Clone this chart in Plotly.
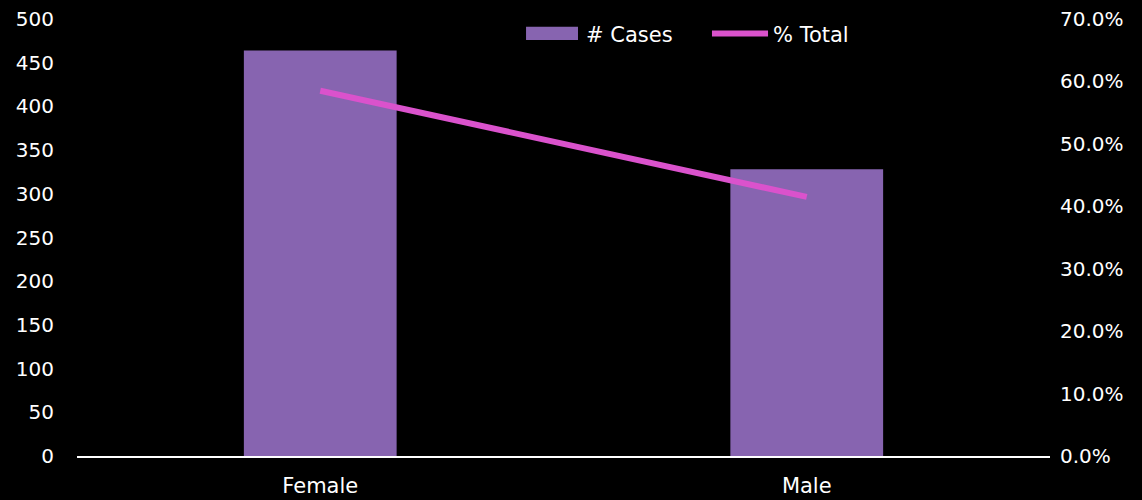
import plotly.graph_objects as go

# Case counts by gender and share of total
categories = ["Female", "Male"]
cases = [464, 328]
pct_total = [0.585, 0.415]

left_ticks = list(range(0, 501, 50))
right_ticks = [i / 10 for i in range(0, 8)]

BAR_COLOR = "#8764B0"
LINE_COLOR = "#DA52CC"
FONT = "Century Gothic, URW Gothic, DejaVu Sans, sans-serif"

fig = go.Figure()
fig.add_trace(go.Bar(
    x=categories, y=cases, name="# Cases",
    marker=dict(color=BAR_COLOR, line=dict(width=0)),
    showlegend=False,
))
fig.add_trace(go.Scatter(
    x=categories, y=pct_total, name="% Total", yaxis="y2",
    mode="lines", line=dict(color=LINE_COLOR, width=6),
    showlegend=False,
))

# Legend drawn as swatches with labels
fig.add_shape(type="rect", xref="paper", yref="paper",
              x0=0.4615, x1=0.5149, y0=0.952, y1=0.982,
              fillcolor=BAR_COLOR, line=dict(width=0))
fig.add_annotation(text="# Cases", xref="paper", yref="paper",
                   x=0.521, y=0.963, xanchor="left", yanchor="middle",
                   showarrow=False,
                   font=dict(color="white", size=21, family=FONT))
fig.add_shape(type="line", xref="paper", yref="paper",
              x0=0.6526, x1=0.7102, y0=0.967, y1=0.967,
              line=dict(color=LINE_COLOR, width=6))
fig.add_annotation(text="% Total", xref="paper", yref="paper",
                   x=0.7133, y=0.963, xanchor="left", yanchor="middle",
                   showarrow=False,
                   font=dict(color="white", size=21, family=FONT))

fig.update_layout(
    width=1142, height=500,
    paper_bgcolor="black", plot_bgcolor="black",
    margin=dict(l=77, r=92, t=19, b=44, autoexpand=False),
    font=dict(family=FONT, color="white", size=20),
    bargap=0.686,
    xaxis=dict(
        showgrid=False, zeroline=False, showline=True, automargin=False,
        linecolor="white", linewidth=2, ticks="",
        ticklabelstandoff=10, tickfont=dict(size=21),
    ),
    yaxis=dict(
        range=[0, 500], tickvals=left_ticks, showgrid=False, automargin=False,
        zeroline=False, showline=False, ticks="",
        ticklabelstandoff=22, tickfont=dict(size=20),
    ),
    yaxis2=dict(
        range=[0, 0.7], tickvals=right_ticks, tickformat=".1%", automargin=False,
        overlaying="y", side="right", showgrid=False,
        zeroline=False, showline=False, ticks="",
        ticklabelstandoff=9, tickfont=dict(size=20),
    ),
)

fig.write_html("out.html")
